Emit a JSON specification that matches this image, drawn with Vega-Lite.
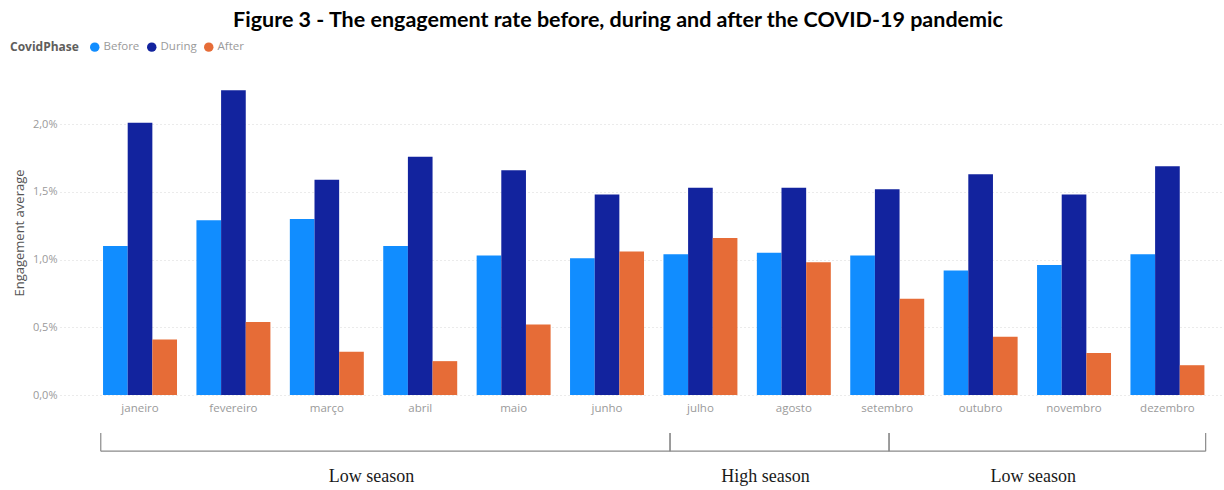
{
  "$schema": "https://vega.github.io/schema/vega-lite/v6.json",
  "width": 1162,
  "height": 325,
  "autosize": {"type": "none"},
  "padding": {"left": 60, "top": 70, "right": 2, "bottom": 95},
  "background": "white",
  "title": {
    "text": "Figure 3 - The engagement rate before, during and after the COVID-19 pandemic",
    "font": "Lato",
    "fontSize": 21.5,
    "fontWeight": "bold",
    "color": "#000000",
    "anchor": "middle",
    "dx": -23,
    "offset": 10
  },
  "config": {"view": {"stroke": null}, "font": "Open Sans"},
  "datasets": {
    "engagement": [
      {"month": "janeiro", "phase": "Before", "engagement": 1.10},
      {"month": "janeiro", "phase": "During", "engagement": 2.01},
      {"month": "janeiro", "phase": "After", "engagement": 0.41},
      {"month": "fevereiro", "phase": "Before", "engagement": 1.29},
      {"month": "fevereiro", "phase": "During", "engagement": 2.25},
      {"month": "fevereiro", "phase": "After", "engagement": 0.54},
      {"month": "março", "phase": "Before", "engagement": 1.30},
      {"month": "março", "phase": "During", "engagement": 1.59},
      {"month": "março", "phase": "After", "engagement": 0.32},
      {"month": "abril", "phase": "Before", "engagement": 1.10},
      {"month": "abril", "phase": "During", "engagement": 1.76},
      {"month": "abril", "phase": "After", "engagement": 0.25},
      {"month": "maio", "phase": "Before", "engagement": 1.03},
      {"month": "maio", "phase": "During", "engagement": 1.66},
      {"month": "maio", "phase": "After", "engagement": 0.52},
      {"month": "junho", "phase": "Before", "engagement": 1.01},
      {"month": "junho", "phase": "During", "engagement": 1.48},
      {"month": "junho", "phase": "After", "engagement": 1.06},
      {"month": "julho", "phase": "Before", "engagement": 1.04},
      {"month": "julho", "phase": "During", "engagement": 1.53},
      {"month": "julho", "phase": "After", "engagement": 1.16},
      {"month": "agosto", "phase": "Before", "engagement": 1.05},
      {"month": "agosto", "phase": "During", "engagement": 1.53},
      {"month": "agosto", "phase": "After", "engagement": 0.98},
      {"month": "setembro", "phase": "Before", "engagement": 1.03},
      {"month": "setembro", "phase": "During", "engagement": 1.52},
      {"month": "setembro", "phase": "After", "engagement": 0.71},
      {"month": "outubro", "phase": "Before", "engagement": 0.92},
      {"month": "outubro", "phase": "During", "engagement": 1.63},
      {"month": "outubro", "phase": "After", "engagement": 0.43},
      {"month": "novembro", "phase": "Before", "engagement": 0.96},
      {"month": "novembro", "phase": "During", "engagement": 1.48},
      {"month": "novembro", "phase": "After", "engagement": 0.31},
      {"month": "dezembro", "phase": "Before", "engagement": 1.04},
      {"month": "dezembro", "phase": "During", "engagement": 1.69},
      {"month": "dezembro", "phase": "After", "engagement": 0.22}
    ],
    "seasons": [
      {"season": "Low season", "start": -0.42, "end": 5.675},
      {"season": "High season", "start": 5.675, "end": 8.02},
      {"season": "Low season", "start": 8.02, "end": 11.41}
    ]
  },
  "layer": [
    {
      "data": {"name": "engagement"},
      "mark": {"type": "bar"},
      "encoding": {
        "x": {
          "field": "month",
          "type": "nominal",
          "sort": ["janeiro", "fevereiro", "março", "abril", "maio", "junho", "julho", "agosto", "setembro", "outubro", "novembro", "dezembro"],
          "scale": {"paddingInner": 0.208, "paddingOuter": 0.3245, "align": 0.71},
          "axis": {
            "title": null,
            "labelAngle": 0,
            "domain": false,
            "ticks": false,
            "labelColor": "#9a9a9a",
            "labelFont": "Open Sans",
            "labelFontSize": 11.5,
            "labelPadding": 7
          }
        },
        "xOffset": {
          "field": "phase",
          "type": "nominal",
          "sort": ["Before", "During", "After"],
          "scale": {"paddingInner": 0, "paddingOuter": 0}
        },
        "y": {
          "field": "engagement",
          "type": "quantitative",
          "scale": {"domain": [0, 2.4], "nice": false},
          "axis": {
            "title": "Engagement average",
            "titleFont": "Open Sans",
            "titleFontSize": 13,
            "titleFontWeight": "normal",
            "titleColor": "#555555",
            "titlePadding": 6,
            "values": [0, 0.5, 1, 1.5, 2],
            "labelExpr": "replace(format(datum.value, '.1f'), '.', ',') + '%'",
            "labelColor": "#9a9a9a",
            "labelFont": "Open Sans",
            "labelFontSize": 11,
            "labelPadding": 3,
            "domain": false,
            "ticks": false,
            "grid": true,
            "gridColor": "#d6d6d6",
            "gridDash": [1, 3]
          }
        },
        "color": {
          "field": "phase",
          "type": "nominal",
          "sort": ["Before", "During", "After"],
          "scale": {"domain": ["Before", "During", "After"], "range": ["#118DFF", "#12239E", "#E66C37"]},
          "legend": {
            "orient": "none",
            "legendX": -50,
            "legendY": -29,
            "direction": "horizontal",
            "title": "CovidPhase",
            "titleOrient": "left",
            "titleFont": "Open Sans",
            "titleFontWeight": "bold",
            "titleFontSize": 12,
            "titleColor": "#605e5c",
            "titlePadding": 10,
            "labelFont": "Open Sans",
            "labelFontSize": 11.5,
            "labelColor": "#9a9a9a",
            "labelOffset": 3,
            "symbolType": "circle",
            "symbolSize": 90,
            "symbolStrokeWidth": 0,
            "columnPadding": 6
          }
        }
      }
    },
    {
      "data": {"name": "seasons"},
      "mark": {"type": "rule", "color": "#8a8a8a", "strokeWidth": 1.2},
      "encoding": {
        "x": {"field": "start", "type": "quantitative", "scale": {"domain": [-0.8565, 11.585], "nice": false, "zero": false}, "axis": null},
        "x2": {"field": "end"},
        "y": {"datum": -0.415}
      }
    },
    {
      "data": {"name": "seasons"},
      "transform": [{"fold": ["start", "end"], "as": ["edge", "at"]}],
      "mark": {"type": "rule", "color": "#8a8a8a", "strokeWidth": 1.2},
      "encoding": {
        "x": {"field": "at", "type": "quantitative", "scale": {"domain": [-0.8565, 11.585], "nice": false, "zero": false}, "axis": null},
        "y": {"datum": -0.28},
        "y2": {"datum": -0.415}
      }
    },
    {
      "data": {"name": "seasons"},
      "transform": [{"calculate": "(datum.start + datum.end) / 2", "as": "mid"}],
      "mark": {"type": "text", "font": "Liberation Serif", "fontSize": 18, "color": "#1a1a1a", "dx": -14, "baseline": "alphabetic"},
      "encoding": {
        "x": {"field": "mid", "type": "quantitative", "scale": {"domain": [-0.8565, 11.585], "nice": false, "zero": false}, "axis": null},
        "y": {"datum": -0.646},
        "text": {"field": "season"}
      }
    }
  ],
  "resolve": {"scale": {"x": "independent"}, "axis": {"x": "independent"}}
}
